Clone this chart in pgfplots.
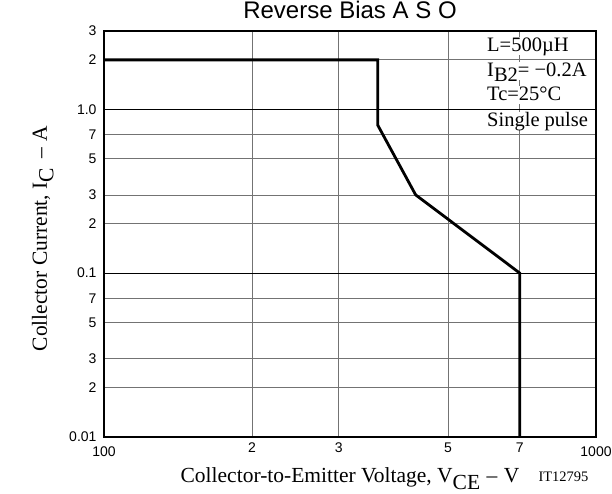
\documentclass[border=0pt]{standalone}
\usepackage{pgfplots}
\pgfplotsset{compat=1.18}
\usepackage{fontspec}
\setmainfont{Liberation Serif}
\newfontfamily\arial{Liberation Sans}

\begin{document}
\begin{tikzpicture}
\begin{axis}[
    scale only axis,
    width=492pt, height=406pt,
    xmode=log, ymode=log,
    xmin=100, xmax=1000,
    ymin=0.01, ymax=3,
    axis line style={black, line width=1.4pt},
    major tick length=0pt,
    minor tick num=0,
    xtick={200,300,500,700},
    xticklabels={2,3,5,7},
    extra x ticks={100,1000},
    extra x tick labels={100,1000},
    extra x tick style={xticklabel style={yshift=-4pt}, grid=none},
    ytick={0.02,0.03,0.05,0.07,0.2,0.3,0.5,0.7,2,3},
    yticklabels={2,3,5,7,2,3,5,7,2,3},
    extra y ticks={0.01,0.1,1},
    extra y tick labels={0.01,0.1,1.0},
    extra y tick style={grid style={black, line width=1.1pt}},
    grid=major,
    grid style={gray!90!black, line width=0.75pt},
    tick label style={font=\arial\fontsize{14}{14}\selectfont},
    xticklabel style={yshift=-2pt},
    yticklabel style={xshift=-4pt},
]
\addplot[black, line width=2.8pt, line join=miter] coordinates {
    (100,2) (360,2) (360,0.8) (430,0.3) (700,0.1) (700,0.01)
};
\end{axis}
% text around the axis box (axis box runs from (0,0) to (492pt,406pt))
\node[font=\arial\fontsize{24}{24}\selectfont, anchor=base] at (246pt,418pt) {Reverse Bias A S O};
\node[font=\fontsize{21.5}{21.5}\selectfont, anchor=base] at (246pt,-46pt)
    {Collector-to-Emitter Voltage, V\raisebox{-0.3em}{CE}\hspace{0.3em}--\hspace{0.3em}V};
\node[font=\fontsize{14.5}{14.5}\selectfont, anchor=base west] at (431pt,-45pt) {IT12795};
\node[font=\fontsize{21.5}{21.5}\selectfont, rotate=90, anchor=base east] at (-57pt,315pt)
    {Collector Current, I\raisebox{-0.3em}{C}\hspace{0.45em}--\hspace{0.3em}A};
\foreach \txt/\yy in {{L=500µH}/385, {I\raisebox{-0.2em}{B2}= −0.2A}/360, {Tc=25°C}/336, {Single pulse}/310}
    \node[font=\fontsize{20.5}{20.5}\selectfont, anchor=base west, fill=white, inner xsep=3pt,
          inner ysep=1pt, text depth=0.22em] at (380pt,\yy pt) {\makebox[100pt][l]{\txt}};
\pgfresetboundingbox
\path (-104pt,-57pt) rectangle (508pt,437pt);
\end{tikzpicture}
\end{document}
